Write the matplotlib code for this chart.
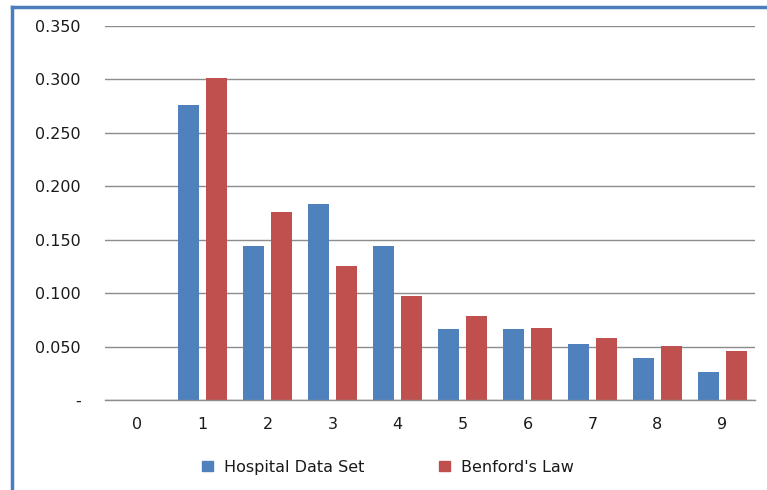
import matplotlib
matplotlib.use("Agg")
import matplotlib.pyplot as plt
import numpy as np
from matplotlib.lines import Line2D
from matplotlib.patches import Patch

digits = ["0", "1", "2", "3", "4", "5", "6", "7", "8", "9"]
hospital = [0.0, 0.276, 0.144, 0.183, 0.144, 0.066, 0.066, 0.052, 0.039, 0.026]
benford = [0.0, 0.301, 0.176, 0.125, 0.097, 0.079, 0.067, 0.058, 0.051, 0.046]
yticks = [0.0, 0.05, 0.10, 0.15, 0.20, 0.25, 0.30, 0.35]
ytick_labels = ["-", "0.050", "0.100", "0.150", "0.200", "0.250", "0.300", "0.350"]
series_names = ["Hospital Data Set", "Benford's Law"]

blue = "#4F81BD"
red = "#C0504D"

plt.rcParams['font.family'] = ['DejaVu Sans']
fig = plt.figure(figsize=(7.67, 4.90), dpi=100)
ax = fig.add_axes([105/767, 1-400/490, 650/767, (400-26)/490])

x = np.arange(len(digits))
w = 0.317
off = 0.215
ax.bar(x - off, hospital, width=w, color=blue, zorder=3)
ax.bar(x + off, benford, width=w, color=red, zorder=3)

fs = 11.5
ax.set_xlim(-0.5, 9.5)
ax.set_ylim(0, 0.35)
ax.set_yticks(yticks)
ax.set_yticklabels(ytick_labels)
ax.set_xticks(x)
ax.set_xticklabels(digits)
ax.tick_params(axis='both', length=0, labelsize=fs, colors='#1a1a1a')
ax.tick_params(axis='y', pad=17.3)
ax.tick_params(axis='x', pad=12)
ax.grid(axis='y', color='#8c8c8c', linewidth=1.0, zorder=0)
for s in ['top', 'right', 'left']:
    ax.spines[s].set_visible(False)
ax.spines['bottom'].set_color('#8c8c8c')
ax.spines['bottom'].set_linewidth(1.0)
ax.spines['bottom'].set_zorder(4)

handles = [Patch(color=blue), Patch(color=red)]
fig.legend(handles, series_names, loc='center', bbox_to_anchor=(388/767, 1-467/490),
           ncol=2, frameon=False, fontsize=fs, handlelength=0.65, handleheight=0.65,
           handletextpad=0.7, columnspacing=4.7, labelcolor='#1a1a1a',
           borderpad=0, borderaxespad=0)

# chart border (top and left)
fig.add_artist(Line2D([12/767, 1.0], [1-7/490, 1-7/490], transform=fig.transFigure,
                      color='#4A7EBB', linewidth=2.5))
fig.add_artist(Line2D([12/767, 12/767], [1-7/490, 0.0], transform=fig.transFigure,
                      color='#4A7EBB', linewidth=2.5))

fig.savefig("out.png", dpi=100)
